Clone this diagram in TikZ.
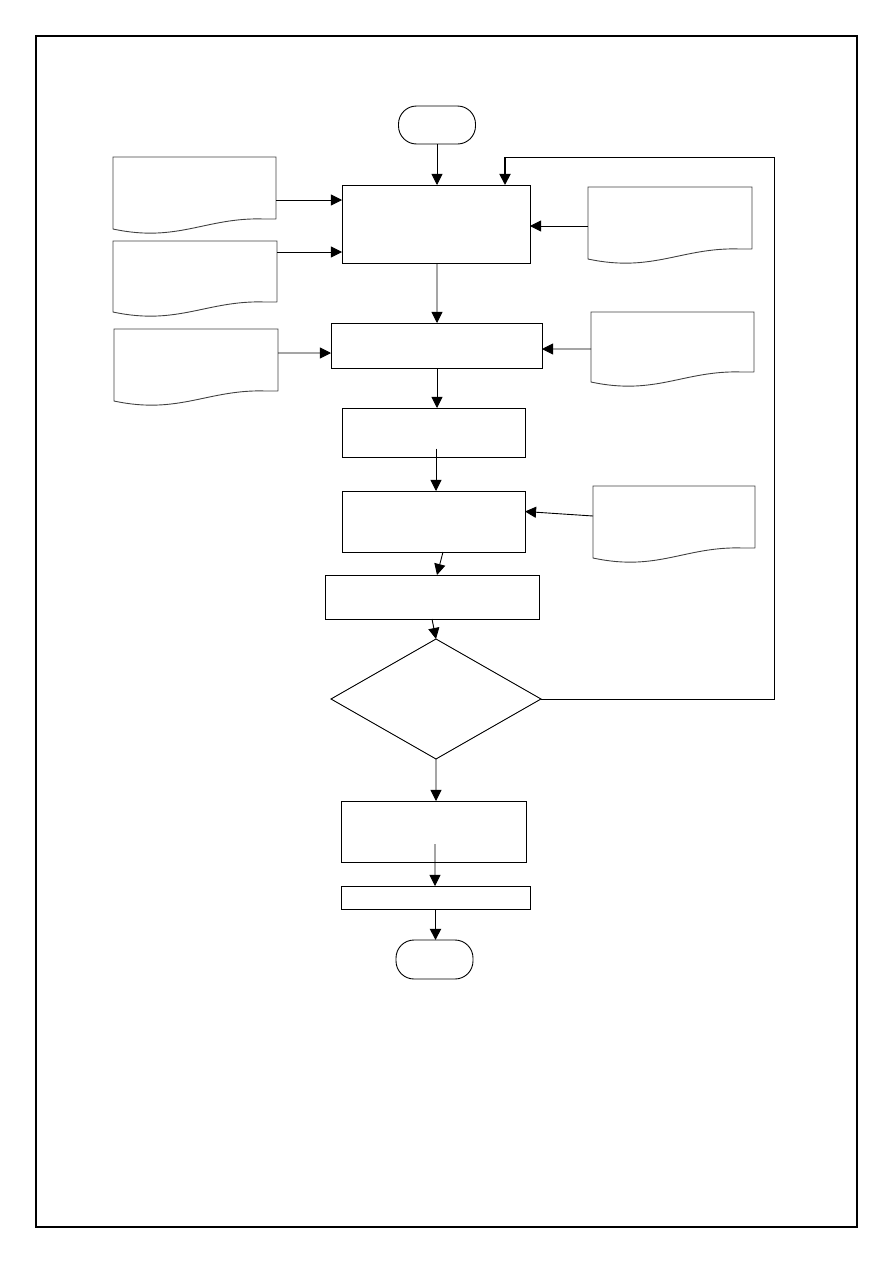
\documentclass[tikz,border=0pt]{standalone}
\usepackage{tikz}
\usetikzlibrary{arrows.meta, positioning, shapes.geometric}

\newlength{\pxu}
\setlength{\pxu}{0.0235cm}

% document symbol: outline drawn round a named (invisible) node
\newcommand{\docshape}[1]{%
	\draw[docline] (#1.south east) -- (#1.north east) -- (#1.north west)
		-- ([yshift=-10\pxu]#1.south west)
		.. controls ([xshift=65\pxu,yshift=-24\pxu]#1.south west)
		and ([xshift=-70\pxu,yshift=2\pxu]#1.south east)
		.. ([xshift=-12\pxu]#1.south east) -- (#1.south east);}

\begin{document}
\begin{tikzpicture}[
		x=\pxu, y=-\pxu,
		line width=0.6pt,
		box/.style={
			draw,
			inner sep=0pt,
			outer sep=0pt
		},
		terminal/.style={
			box,
			rounded corners=18\pxu,
			minimum width=77\pxu,
			minimum height=38\pxu
		},
		docu/.style={
			inner sep=0pt,
			outer sep=0pt,
			minimum width=163\pxu,
			minimum height=62\pxu
		},
		docline/.style={line width=0.6pt, draw=black!75},
		decision/.style={
			draw,
			diamond,
			aspect=1.75,
			inner sep=0pt,
			outer sep=0pt,
			minimum width=210\pxu,
			minimum height=120\pxu
		},
		arrow/.style={-{Triangle[length=2.6mm, width=2.6mm]}},
		thickarrow/.style={arrow, line width=1.2pt}
		]
		
		\useasboundingbox (0,0) rectangle (893,1263);
		\draw[line width=0.8pt] (36,36) rectangle (857,1227);
		
		% main column
		\node[terminal] (start) at (437,125) {};
		\node[box, minimum width=188\pxu, minimum height=78\pxu] (collect) at (436,224) {};
		\node[box, minimum width=211\pxu, minimum height=45\pxu] (prepare) at (436.5,345.5) {};
		\node[box, minimum width=183\pxu, minimum height=49\pxu] (sort) at (433.5,432.5) {};
		\node[box, minimum width=183\pxu, minimum height=61\pxu] (compute) at (433.5,521.5) {};
		\node[box, minimum width=214\pxu, minimum height=44\pxu] (check) at (432,597) {};
		\node[decision] (ok) at (436,699) {};
		\node[box, minimum width=185\pxu, minimum height=61\pxu] (report) at (433.5,831.5) {};
		\node[box, minimum width=189\pxu, minimum height=23\pxu] (store) at (435.5,897.5) {};
		\node[terminal, minimum height=39\pxu] (stop) at (434.5,959.5) {};
		
		% documents
		\node[docu] (inA) at (194.5,188) {};
		\node[docu, minimum width=164\pxu, minimum height=61\pxu] (inB) at (195,271.5) {};
		\node[docu, minimum width=164\pxu] (inC) at (196,360) {};
		\node[docu, minimum width=164\pxu] (inD) at (670,218) {};
		\node[docu, minimum height=60\pxu] (inE) at (672.5,342) {};
		\node[docu, minimum width=162\pxu] (inF) at (674,517) {};
		\docshape{inA}
		\docshape{inB}
		\docshape{inC}
		\docshape{inD}
		\docshape{inE}
		\docshape{inF}
		
		\draw[arrow] (start) -- (start |- collect.north);
		\draw[arrow] ([yshift=-12\pxu]inA.east) -- ([yshift=24\pxu]collect.west);
		\draw[arrow] ([yshift=19.5\pxu]inB.east) -- ([yshift=-28\pxu]collect.west);
		\draw[arrow] ([yshift=-8\pxu]inD.west) -- ([yshift=-2\pxu]collect.east);
		\draw[arrow] ([xshift=1\pxu]collect.south) -- ([xshift=0.5\pxu]prepare.north);
		\draw[arrow] ([yshift=7\pxu]inC.east) -- ([yshift=-7.5\pxu]prepare.west);
		\draw[arrow] ([yshift=-7\pxu]inE.west) -- ([yshift=-3.5\pxu]prepare.east);
		\draw[arrow] ([xshift=0.5\pxu]prepare.south) -- ([xshift=3.5\pxu]sort.north);
		\draw[arrow] ([xshift=2.5\pxu,yshift=-16\pxu]sort.center) -- ([xshift=2.5\pxu]compute.north);
		\draw[arrow] ([yshift=1\pxu]inF.west) -- ([yshift=10\pxu]compute.east);
		\draw[arrow] ([xshift=9.5\pxu]compute.south) -- ([xshift=5\pxu]check.north);
		\draw[arrow] (check.south) -- (ok.north);
		\draw (ok.east) -- ++(233,0) -- ++(0,-542) -- ++(-269,0) coordinate (loopend);
		\draw[thickarrow] (loopend) -- ([xshift=69\pxu]collect.north);
		\draw[arrow] (ok.south) -- ([xshift=2.5\pxu]report.north);
		\draw[arrow] ([xshift=1.5\pxu,yshift=-12.5\pxu]report.center) -- ([xshift=-0.5\pxu]store.north);
		\draw[thickarrow] (store.south) -- (store.south |- stop.north);
		
	\end{tikzpicture}
\end{document}
